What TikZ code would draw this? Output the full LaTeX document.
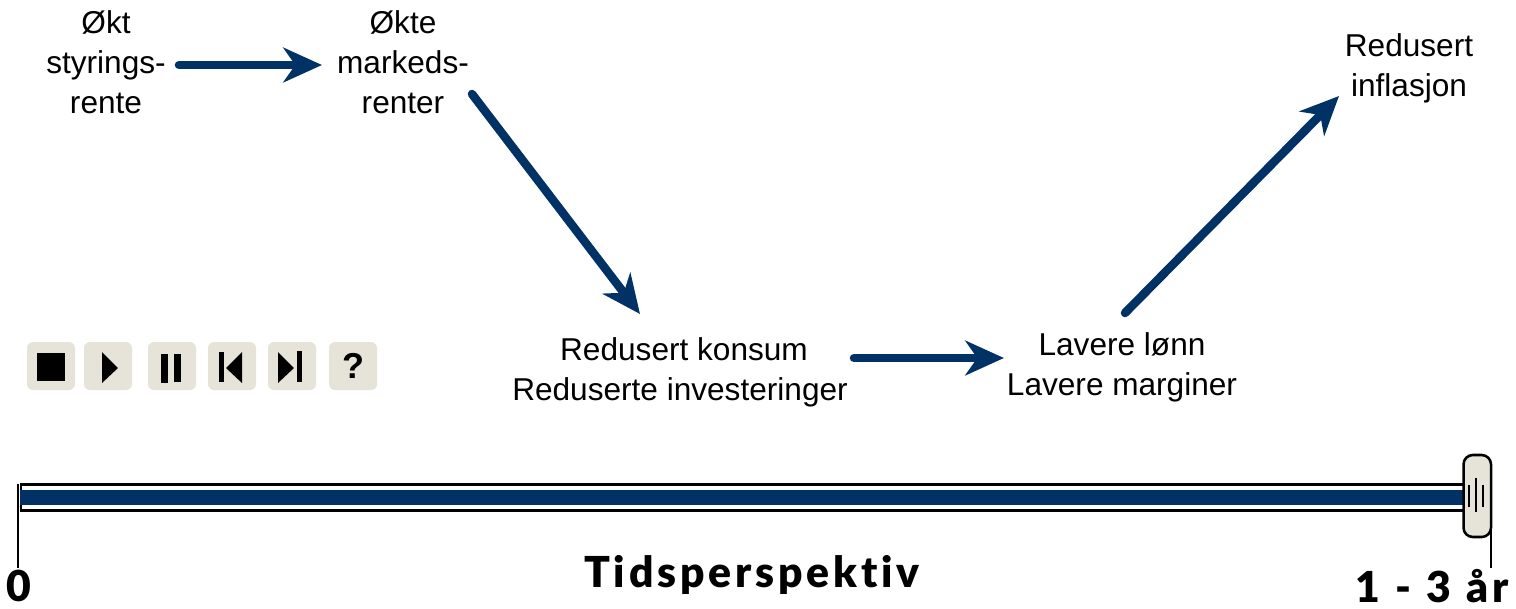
\documentclass[tikz,border=0pt]{standalone}
\usepackage{fontspec}
\usepackage{xcolor}
\usetikzlibrary{arrows.meta}
\setmainfont{Liberation Sans}
\newfontfamily\axisfont[LetterSpace=9,Ligatures=NoCommon,WordSpace=1.12]{Lato Black}
\definecolor{flowblue}{RGB}{0,50,102}
\definecolor{panelgrey}{RGB}{230,227,216}

\tikzset{
  flowarrow/.style={draw=flowblue,line width=6.4pt,line cap=round,-{Stealth[length=29pt,width=26pt,inset=9pt]}},
  flowtext/.style={align=center,inner sep=0pt,font=\fontsize{23.7}{30}\selectfont},
  axistext/.style={inner sep=0pt,font=\axisfont\fontsize{32}{32}\selectfont},
  panelbtn/.style={fill=panelgrey,rounded corners=4.5pt},
  tickline/.style={draw=black,line width=0.9pt},
  griplines/.style={draw=black,line width=1.5pt}
}

\begin{document}
\begin{tikzpicture}[x=0.75pt,y=0.75pt,yscale=-1,xscale=1]
\useasboundingbox (0,0) rectangle (1516,608);

% Text Node
\node [flowtext] (styring) at (106,62) {Økt\\styrings-\\rente};
\node [flowtext] (marked) at (403,62) {Økte\\markeds-\\renter};
\node [flowtext] (konsum) at (680,372) {\hspace{6pt}Redusert konsum\\Reduserte investeringer};
\node [flowtext] (lonn) at (1122,367) {Lavere lønn\\Lavere marginer};
\node [flowtext] (inflasjon) at (1409,68) {Redusert\\inflasjon};

% Arrow ends
\coordinate (a1) at (179,65);
\coordinate (a2) at (322,65);
\coordinate (b1) at (472,94);
\coordinate (b2) at (640,314);
\coordinate (c1) at (854,358);
\coordinate (c2) at (1004,358);
\coordinate (d1) at (1125,313);
\coordinate (d2) at (1339,96);

%Straight Lines
\draw [flowarrow] (a1) -- (a2);
\draw [flowarrow] (b1) -- (b2);
\draw [flowarrow] (c1) -- (c2);
\draw [flowarrow] (d1) -- (d2);

% Buttons
\fill [panelbtn] (27,342) rectangle (75,390);
\fill [panelbtn] (84,342) rectangle (132,390);
\fill [panelbtn] (148,342) rectangle (196,390);
\fill [panelbtn] (208,342) rectangle (256,390);
\fill [panelbtn] (268,342) rectangle (316,390);
\fill [panelbtn] (329,342) rectangle (377,390);
\fill (37,353) rectangle (65,381);
\fill (102,352) -- (118,368) -- (102,383) -- cycle;
\fill (161,354) rectangle (168,383);
\fill (174,354) rectangle (181,382);
\fill (219,352) rectangle (224,382);
\fill (242,352) -- (226,368) -- (242,383) -- cycle;
\fill (278,352) -- (294,368) -- (278,383) -- cycle;
\fill (297,351) rectangle (302,382);
\node [inner sep=0pt,font=\bfseries\fontsize{27}{27}\selectfont] (help) at (353,366) {?};

% Time bar
\draw [draw=black,line width=1.6pt,fill=white] (21,484.5) rectangle (1466,510.5);
\fill [flowblue] (20,490) rectangle (1464,505);
\coordinate (t0a) at (18,484);
\coordinate (t0b) at (18,568);
\coordinate (t1a) at (1491,484);
\coordinate (t1b) at (1491,568);
\draw [tickline] (t0a) -- (t0b);
\draw [tickline] (t1a) -- (t1b);

% Slider
\draw [draw=black,line width=1.9pt,fill=panelgrey,rounded corners=7pt] (1463.5,455) rectangle (1491,537);
\draw [griplines] (1476,478) -- (1476,512);
\draw [griplines] (1469,485) -- (1469,507);
\draw [griplines] (1483,485) -- (1483,507);

% Text Node
\node [axistext] (zero) at (19,586) {0};
\node [axistext] (tids) at (752,575) {Tidsperspektiv};
\node [axistext] (aar) at (1432,586) {1 - 3 år};
\end{tikzpicture}
\end{document}
